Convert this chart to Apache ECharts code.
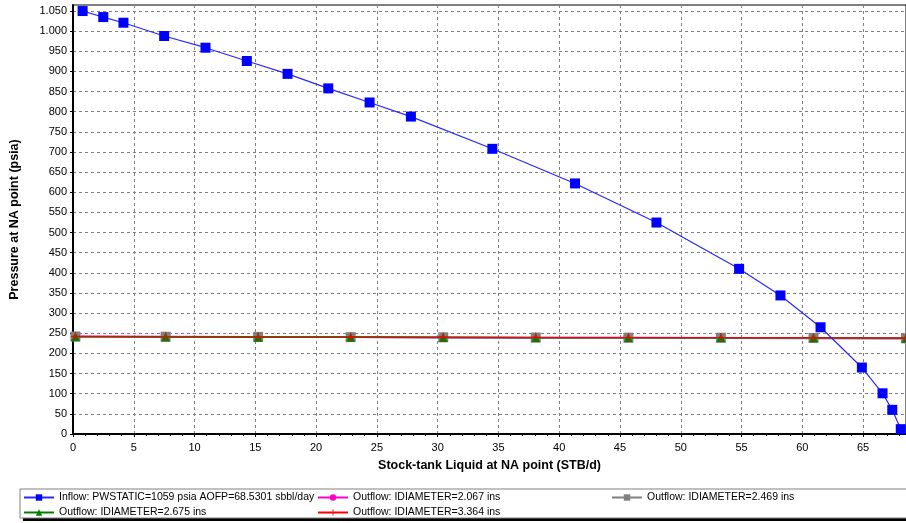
<!DOCTYPE html>
<html>
<head>
<meta charset="utf-8">
<script src="https://cdn.jsdelivr.net/npm/echarts@6/dist/echarts.min.js"></script>
<style>
html,body{margin:0;padding:0;background:#fff;}
#chart{width:906px;height:523px;}
</style>
</head>
<body>
<div id="chart"></div>
<script>
// ---- data ----
const inflowX = [0.79, 2.49, 4.15, 7.5, 10.9, 14.3, 17.65, 21.0, 24.4, 27.8, 34.5, 41.3, 48.0, 54.8, 58.2, 61.5, 64.9, 66.6, 67.4, 68.1];
const inflowP = [1050, 1035, 1021, 988, 959, 926, 894, 858, 823, 788, 708, 622, 525, 410, 344, 265, 165, 101, 60, 12];
const outflowX = [0.2, 7.62, 15.23, 22.84, 30.46, 38.07, 45.69, 53.3, 60.92, 68.53];
const out2067 = [242, 241.5, 241, 240.5, 239.5, 239, 238.8, 238.5, 238, 237];
const out2469 = [242, 241.5, 241, 240.5, 240, 239.5, 239.2, 239, 238.5, 237.5];
const out2675 = [241.5, 241, 240, 240, 239.5, 239.2, 239, 239, 239, 238];
const out3364 = [242.5, 242, 241.5, 241, 240.5, 240, 239.5, 239.5, 239, 238.5];
const seriesNames = [
  'Inflow: PWSTATIC=1059 psia AOFP=68.5301 sbbl/day',
  'Outflow: IDIAMETER=2.067 ins',
  'Outflow: IDIAMETER=2.469 ins',
  'Outflow: IDIAMETER=2.675 ins',
  'Outflow: IDIAMETER=3.364 ins'
];
const xTitle = 'Stock-tank Liquid at NA point (STB/d)';
const yTitle = 'Pressure at NA point (psia)';

function pairs(xs, ys){ return xs.map((x,i)=>[x, ys[i]]); }

const FONT = '"Liberation Sans", Arial, sans-serif';
const plusPath = 'path://M3.5,0h1v3.5h3.5v1h-3.5v3.5h-1v-3.5h-3.5v-1h3.5z';

const chart = echarts.init(document.getElementById('chart'), null, {renderer:'canvas'});

function legendAt(name, left, top){
  return {
    data:[name], left:left, top:top, orient:'horizontal',
    itemWidth:30, itemHeight:8, itemGap:4, padding:0,
    textStyle:{fontFamily:FONT, fontSize:10.5, color:'#000'},
    selectedMode:false
  };
}

const option = {
  animation:false,
  backgroundColor:'#fff',
  textStyle:{fontFamily:FONT},
  graphic:[
    {type:'rect', shape:{x:23, y:492, width:890, height:29}, style:{fill:'#000'}, z:-10},
    {type:'rect', shape:{x:20, y:489, width:890, height:29}, style:{fill:'#fff', stroke:'#808080', lineWidth:1}, z:-9}
  ],
  legend:[
    legendAt(seriesNames[0], 23, 492),
    legendAt(seriesNames[1], 317, 492),
    legendAt(seriesNames[2], 611, 492),
    legendAt(seriesNames[3], 23, 507),
    legendAt(seriesNames[4], 317, 507)
  ],
  grid:{left:71, right:0, top:5, bottom:89, show:true, borderColor:'#000', borderWidth:1, backgroundColor:'transparent'},
  xAxis:{
    type:'value', min:0, max:68.53, interval:5,
    name:xTitle, nameLocation:'middle', nameGap:25,
    nameTextStyle:{fontFamily:FONT, fontWeight:'bold', fontSize:12.5, color:'#000'},
    axisLine:{show:true, onZero:false, lineStyle:{color:'#000', width:2}},
    axisTick:{show:true, length:3, lineStyle:{color:'#000'}},
    minorTick:{show:true, splitNumber:5, length:2, lineStyle:{color:'#000'}},
    axisLabel:{fontFamily:FONT, fontSize:11, color:'#000', margin:8, showMaxLabel:false},
    splitLine:{show:true, lineStyle:{color:'#808080', type:[3,3], width:1}}
  },
  yAxis:{
    type:'value', min:0, max:1065, interval:50,
    name:yTitle, nameLocation:'middle', nameGap:52, nameRotate:90,
    nameTextStyle:{fontFamily:FONT, fontWeight:'bold', fontSize:12.5, color:'#000'},
    axisLine:{show:true, onZero:false, lineStyle:{color:'#000', width:2}},
    axisTick:{show:true, length:3, lineStyle:{color:'#000'}},
    axisLabel:{fontFamily:FONT, fontSize:11, color:'#000', margin:6, showMaxLabel:false,
      formatter:function(v){ return v>=1000 ? Math.floor(v/1000)+'.'+String(v%1000).padStart(3,'0') : String(v); }},
    splitLine:{show:true, lineStyle:{color:'#808080', type:[3,3], width:1}}
  },
  series:[
    {name:seriesNames[0], type:'line', data:pairs(inflowX, inflowP), z:10,
     symbol:'rect', symbolSize:10, lineStyle:{color:'#2828ff', width:1.2},
     itemStyle:{color:'#0000ff'}},
    {name:seriesNames[1], type:'line', data:pairs(outflowX, out2067), z:2,
     symbol:'circle', symbolSize:7, lineStyle:{color:'#ff00cc', width:2},
     itemStyle:{color:'#ff00cc'}},
    {name:seriesNames[2], type:'line', data:pairs(outflowX, out2469), z:3,
     symbol:'rect', symbolSize:10, lineStyle:{color:'#808080', width:1},
     itemStyle:{color:'#808080'}},
    {name:seriesNames[3], type:'line', data:pairs(outflowX, out2675), z:4,
     symbol:'triangle', symbolSize:9, lineStyle:{color:'#008000', width:1.5},
     itemStyle:{color:'#008000'}},
    {name:seriesNames[4], type:'line', data:pairs(outflowX, out3364), z:5,
     symbol:plusPath, symbolSize:9, lineStyle:{color:'#ff0000', width:1},
     itemStyle:{color:'#ff0000'}}
  ]
};
chart.setOption(option);
</script>
</body>
</html>
